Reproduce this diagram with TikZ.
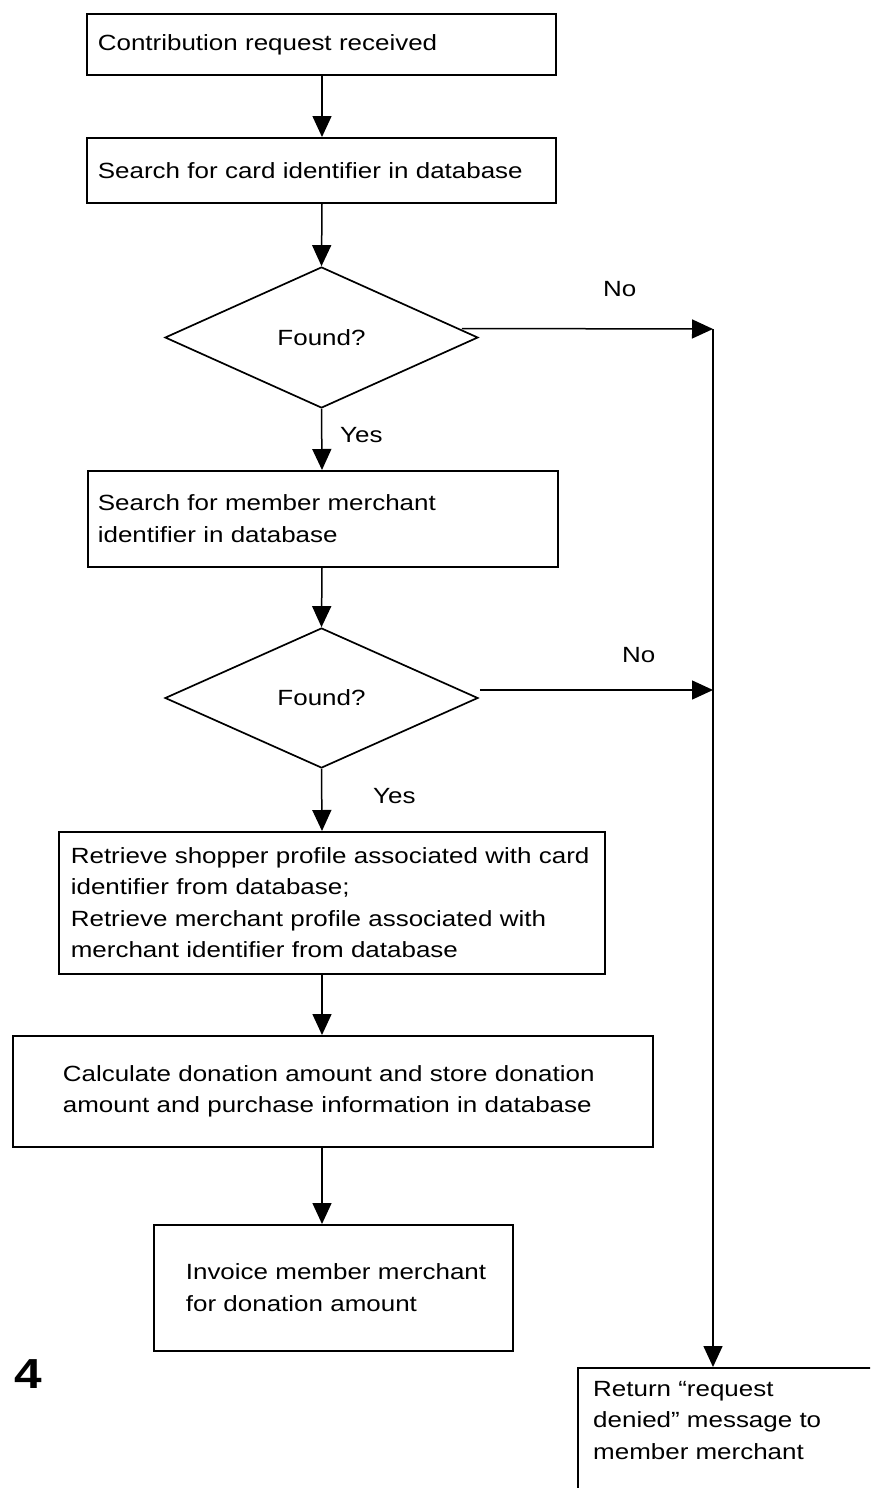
\documentclass[tikz,border=0pt]{standalone}
\usepackage{fontspec}
\setmainfont{Liberation Sans}[FakeStretch=1.18]
\usetikzlibrary{shapes.geometric,arrows.meta,calc}
\begin{document}
\begin{tikzpicture}[x=1pt,y=-1pt,
  font=\fontsize{22pt}{31.5pt}\selectfont,
  pbox/.style={draw, line width=1.7pt, align=left, anchor=north west, inner ysep=0pt},
  dec/.style={diamond, draw, line width=1.7pt, inner sep=0pt, minimum width=313pt},
  arr/.style={line width=1.5pt, -{Triangle[length=21pt,width=19pt]}},
  lbl/.style={anchor=base west, inner sep=0pt}
]
\clip (0,0) rectangle (870,1488);
\fill[white] (0,0) rectangle (870,1488);

\node[pbox, minimum width=469pt, minimum height=61pt, inner xsep=11pt, text width=447pt] (b1) at (86,13) {Contribution request received};
\node[pbox, minimum width=469pt, minimum height=65pt, inner xsep=11pt, text width=447pt] (b2) at (86,137) {Search for card identifier in database};
\node[dec, minimum height=141pt] (d1) at (321.5,337.5) {Found?};
\node[pbox, minimum width=470pt, minimum height=96pt, inner xsep=10pt, text width=450pt] (b3) at (87,470) {Search for member merchant\\identifier in database};
\node[dec, minimum height=140pt] (d2) at (321.5,698) {Found?};
\node[pbox, minimum width=546pt, minimum height=142pt, inner xsep=12pt, text width=522pt] (b4) at (58,831) {\mbox{Retrieve shopper profile associated with card}\\identifier from database;\\Retrieve merchant profile associated with\\merchant identifier from database};
\node[pbox, minimum width=640pt, minimum height=111pt, inner xsep=50pt, text width=540pt] (b5) at (12,1035) {\mbox{Calculate donation amount and store donation}\\\mbox{amount and purchase information in database}};
\node[pbox, minimum width=359pt, minimum height=126pt, inner xsep=32pt, text width=295pt] (b6) at (153,1224) {\mbox{Invoice member merchant}\\for donation amount};
\node[draw, line width=1.7pt, anchor=north west, minimum width=400pt, minimum height=200pt] (b7) at (577,1367) {};
\node[anchor=north west, align=left, inner sep=0pt] (t7) at (593,1381) {Return “request\\denied” message to\\member merchant};

\node[lbl] (no1) at (603,296) {No};
\node[lbl] (yes1) at (340,442) {Yes};
\node[lbl] (no2) at (622,662) {No};
\node[lbl] (yes2) at (373,803) {Yes};
\node[lbl, font=\fontsize{42pt}{42pt}\selectfont\bfseries] (fig) at (14,1388) {4};

\coordinate (ax) at (322,0);
\coordinate (j1) at (713,329);
\coordinate (j2) at (713,690);

\draw[arr] (b1.south -| ax) -- (b2.north -| ax);
\draw[arr] (b2.south -| ax) -- (d1.north);
\draw[arr] (d1.south) -- (b3.north -| ax);
\draw[arr] (b3.south -| ax) -- (d2.north);
\draw[arr] (d2.south) -- (b4.north -| ax);
\draw[arr] (b4.south -| ax) -- (b5.north -| ax);
\draw[arr] (b5.south -| ax) -- (b6.north -| ax);
\draw[arr] ($(d1.east)+(-17,-9)$) -- (j1);
\draw[arr] ($(d2.east)+(1,-8)$) -- (j2);
\draw[arr] (j1) -- (b7.north -| j1);
\end{tikzpicture}
\end{document}
